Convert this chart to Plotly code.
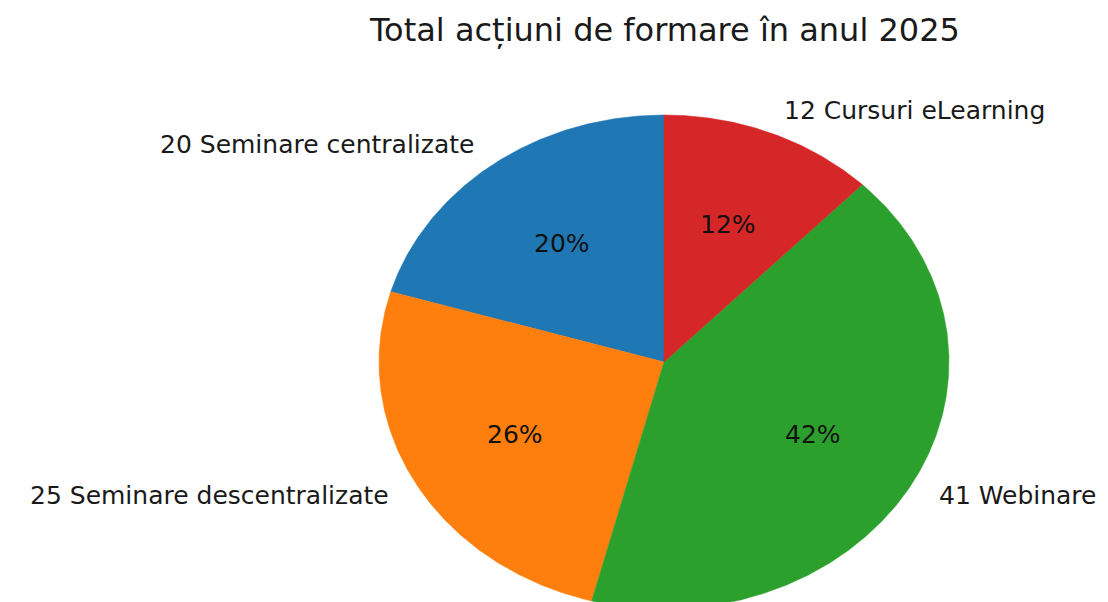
import math
import plotly.graph_objects as go

# Data
categories = ["Seminare centralizate", "Seminare descentralizate", "Webinare", "Cursuri eLearning"]
values = [20, 25, 41, 12]
colors = ["#1f77b4", "#ff7f0e", "#2ca02c", "#d62728"]
title = "Total acțiuni de formare în anul 2025"

W, H = 1108, 602
OFF = 8  # page body margin
CX, CY, RX, RY = 664 - OFF, 362 - OFF, 285, 247  # pixel geometry of the (stretched) pie

total = sum(values)
fig = go.Figure()
annotations = []
start = 90.0
for cat, val, col in zip(categories, values, colors):
    span = 360.0 * val / total
    end = start + span
    n = max(8, int(span * 2))
    xs, ys = [0.0], [0.0]
    for i in range(n + 1):
        a = math.radians(start + span * i / n)
        xs.append(math.cos(a))
        ys.append(math.sin(a))
    xs.append(0.0)
    ys.append(0.0)
    fig.add_trace(go.Scatter(x=xs, y=ys, mode="lines", fill="toself", fillcolor=col,
                             line=dict(color=col, width=0.5), hoverinfo="text",
                             text=f"{val} {cat}", showlegend=False))
    mid = math.radians((start + end) / 2)
    lx, ly = 1.1 * math.cos(mid), 1.1 * math.sin(mid)
    annotations.append(dict(x=lx, y=ly, xref="x", yref="y", text=f"{val} {cat}",
                            showarrow=False, xanchor="left" if lx > 0 else "right",
                            yanchor="middle", font=dict(size=25, color="#1a1a1a")))
    px, py = 0.6 * math.cos(mid), 0.6 * math.sin(mid)
    annotations.append(dict(x=px, y=py, xref="x", yref="y", text=f"{100*val/total:.0f}%",
                            showarrow=False, xanchor="center", yanchor="middle",
                            font=dict(size=25, color="#111111")))
    start = end

annotations.append(dict(x=0.5, y=1, xref="paper", yref="paper", yshift=-30 + OFF, text=title,
                        showarrow=False, xanchor="center", yanchor="middle",
                        xshift=CX - W / 2,
                        font=dict(size=32, color="#1a1a1a")))

fig.update_layout(
    width=W, height=H, margin=dict(l=0, r=0, t=0, b=0),
    paper_bgcolor="white", plot_bgcolor="white",
    font=dict(family="DejaVu Sans"),
    xaxis=dict(range=[(0 - CX) / RX, (W - CX) / RX], visible=False, fixedrange=True),
    yaxis=dict(range=[(CY - H) / RY, CY / RY], visible=False, fixedrange=True),
    annotations=annotations,
)
fig.write_html("out.html")
